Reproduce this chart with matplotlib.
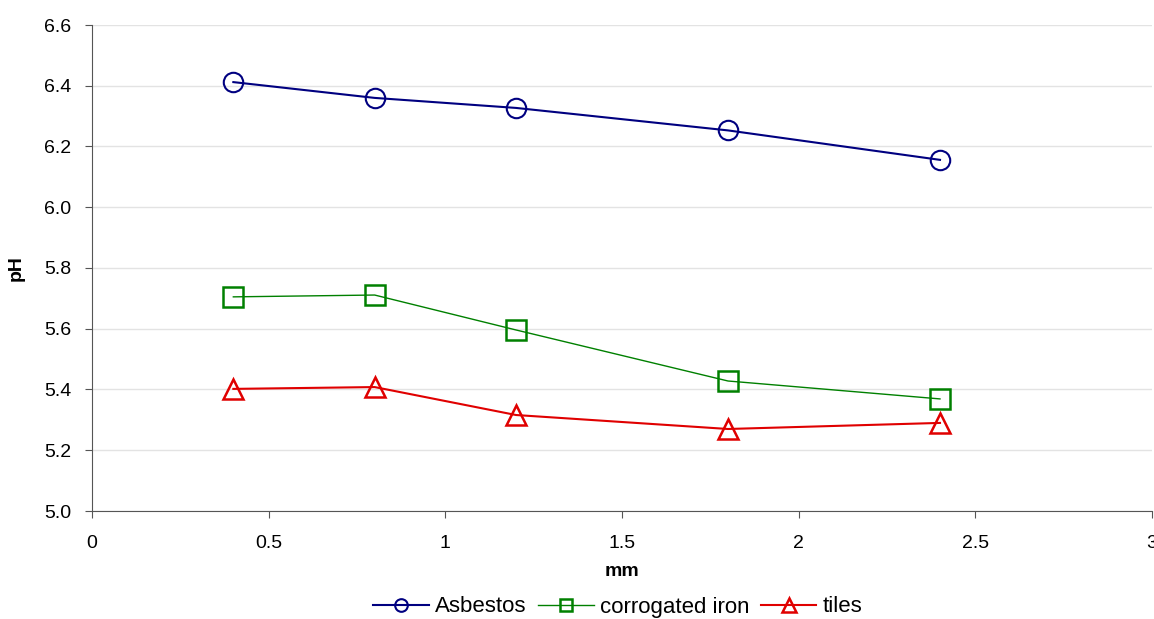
import matplotlib.pyplot as plt

plt.rcParams['font.family'] = ['Liberation Sans', 'DejaVu Sans']

# rainfall thickness (mm) vs pH for each roof type
mm = [0.4, 0.8, 1.2, 1.8, 2.4]
asbestos = [6.412, 6.360, 6.327, 6.253, 6.156]
corrugated_iron = [5.705, 5.711, 5.596, 5.428, 5.369]
tiles = [5.402, 5.408, 5.316, 5.270, 5.290]

fig = plt.figure(figsize=(11.54, 6.19), dpi=100)
ax = fig.add_axes([92/1154, 1-511/619, 1060/1154, 486/619])

ax.plot(mm, asbestos, color='#000080', lw=1.5, marker='o', ms=14,
        mfc='none', mec='#000080', mew=1.5, label='Asbestos')
ax.plot(mm, corrugated_iron, color='#008000', lw=1, marker='s', ms=14,
        mfc='none', mec='#008000', mew=1.8, label='corrogated iron')
ax.plot(mm, tiles, color='#e00000', lw=1.5, marker='^', ms=15,
        mfc='none', mec='#e00000', mew=1.8, label='tiles')

ax.set_xlim(0, 3)
ax.set_ylim(5.0, 6.6)
ax.set_xticks([0, 0.5, 1, 1.5, 2, 2.5, 3])
ax.set_xticklabels(['0', '0.5', '1', '1.5', '2', '2.5', '3'])
ax.set_yticks([5.0 + 0.2*i for i in range(9)])
ax.set_yticklabels(['%.1f' % (5.0 + 0.2*i) for i in range(9)])
ax.tick_params(labelsize=14, direction='out', length=5, color='#555555')
ax.tick_params(axis='x', pad=12)
ax.tick_params(axis='y', pad=10)
ax.grid(axis='y', color='#e3e3e3', lw=1)
ax.set_axisbelow(True)
for s in ['top', 'right']:
    ax.spines[s].set_visible(False)
for s in ['left', 'bottom']:
    ax.spines[s].set_color('#555555')

ax.set_xlabel('mm', fontsize=14, fontweight='bold', labelpad=8)
ax.set_ylabel('pH', fontsize=14, fontweight='bold', labelpad=14)

fig.legend(*ax.get_legend_handles_labels(), loc='center',
           bbox_to_anchor=(618/1154, 1-607/619), ncol=3, frameon=False,
           fontsize=16, handlelength=2.5, columnspacing=0.5, handletextpad=0.3,
           markerscale=0.65, borderpad=0)

fig.savefig('out.png', dpi=100)
